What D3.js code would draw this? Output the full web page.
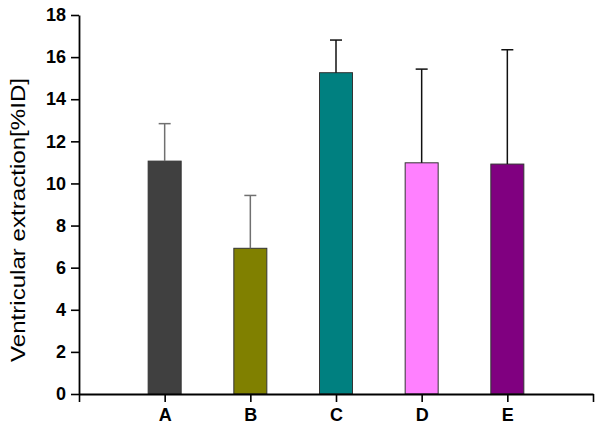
<!DOCTYPE html>
<html>
<head>
<meta charset="utf-8">
<script src="https://cdn.jsdelivr.net/npm/d3@7"></script>
<style>
  body { margin: 0; background: #fff; }
  svg { display: block; font-family: "Liberation Sans", Arial, sans-serif; }
</style>
</head>
<body>
<svg id="vis" width="600" height="432"></svg>
<script>
// data
var groups = ["A", "B", "C", "D", "E"];
var means = [11.06, 6.92, 15.26, 10.98, 10.92];
var errs = [1.78, 2.51, 1.55, 4.45, 5.43];
var yTicks = [0, 2, 4, 6, 8, 10, 12, 14, 16, 18];

const colors = ["#404040", "#808000", "#008080", "#ff80ff", "#800080"];
const errColors = ["#707070", "#707070", "#111111", "#111111", "#111111"];

var svg = d3.select("svg#vis");

var attr = { left: 79, right: 593, top: 15, bottom: 394, barWidth: 33 };

// categories sit at positions 1..5 on a 0..6 axis
var x = d3.scaleLinear().domain([0, groups.length + 1]).range([attr.left, attr.right]);
var y = d3.scaleLinear().domain([0, 18]).range([attr.bottom, attr.top]);

// bars
svg.append("g").selectAll("rect")
  .data(groups)
  .enter()
  .append("rect")
  .attr("x", (d, i) => x(i + 1) - attr.barWidth / 2)
  .attr("y", (d, i) => y(means[i]))
  .attr("width", attr.barWidth)
  .attr("height", (d, i) => y(0) - y(means[i]))
  .style("fill", (d, i) => colors[i])
  .style("stroke", "#333")
  .style("stroke-width", 1);

// error bars (upper only)
var eb = svg.append("g");
groups.forEach(function(d, i) {
  var cx = x(i + 1);
  eb.append("line")
    .attr("x1", cx).attr("x2", cx)
    .attr("y1", y(means[i])).attr("y2", y(means[i] + errs[i]))
    .style("stroke", errColors[i]).style("stroke-width", 1.5);
  eb.append("line")
    .attr("x1", cx - 6).attr("x2", cx + 6)
    .attr("y1", y(means[i] + errs[i])).attr("y2", y(means[i] + errs[i]))
    .style("stroke", errColors[i]).style("stroke-width", 1.5);
});

// y axis
var yAxis = svg.append("g")
  .attr("transform", "translate(" + attr.left + ",0)")
  .call(d3.axisLeft(y).tickValues(yTicks).tickSize(8).tickSizeOuter(0).tickPadding(5));

// x axis
var xAxis = svg.append("g")
  .attr("transform", "translate(0," + attr.bottom + ")")
  .call(d3.axisBottom(x)
    .tickValues(d3.range(0, groups.length + 2))
    .tickFormat(d => (d >= 1 && d <= groups.length) ? groups[d - 1] : "")
    .tickSize(8).tickSizeOuter(0).tickPadding(6));

[yAxis, xAxis].forEach(function(a) {
  a.select(".domain").style("stroke", "#000").style("stroke-width", 1.8);
  a.selectAll(".tick line").style("stroke", "#000").style("stroke-width", 1.6);
  a.selectAll(".tick text")
    .style("font-family", "'Liberation Sans', Arial, sans-serif")
    .style("font-size", "18px")
    .style("font-weight", "bold")
    .style("fill", "#000");
});

// y axis title
svg.append("text")
  .attr("transform", "translate(25,220) rotate(-90)")
  .attr("text-anchor", "middle")
  .attr("textLength", 284)
  .attr("lengthAdjust", "spacingAndGlyphs")
  .style("font-size", "21px")
  .style("fill", "#000")
  .text("Ventricular extraction[%ID]");
</script>
</body>
</html>
